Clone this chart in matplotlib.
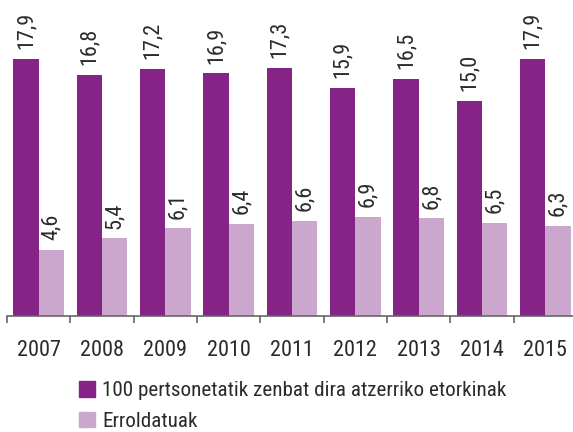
import matplotlib
matplotlib.use('Agg')
import matplotlib.pyplot as plt
from matplotlib.patches import Patch

plt.rcParams['font.family'] = ['Roboto Condensed', 'DejaVu Sans']

urteak = ['2007', '2008', '2009', '2010', '2011', '2012', '2013', '2014', '2015']
etorkinak = [17.9, 16.8, 17.2, 16.9, 17.3, 15.9, 16.5, 15.0, 17.9]
erroldatuak = [4.6, 5.4, 6.1, 6.4, 6.6, 6.9, 6.8, 6.5, 6.3]
izenak = ['100 pertsonetatik zenbat dira atzerriko etorkinak', 'Erroldatuak']

c_more = '#852387'
c_lila = '#cba7cd'
c_text = '#2b2b2b'

fig = plt.figure(figsize=(5.73, 4.32), dpi=100)
ax = fig.add_axes([7/573, 116/432, 570/573, 316/432])

x = list(range(len(urteak)))
b1 = ax.bar([i - 0.2 for i in x], etorkinak, width=0.4, color=c_more)
b2 = ax.bar([i + 0.2 for i in x], erroldatuak, width=0.4, color=c_lila)

for bars, vals in ((b1, etorkinak), (b2, erroldatuak)):
    for b, v in zip(bars, vals):
        ax.annotate(f'{v:.1f}'.replace('.', ','),
                    (b.get_x() + b.get_width()/2, b.get_height()),
                    xytext=(0, 7), textcoords='offset points',
                    rotation=90, ha='center', va='bottom',
                    fontsize=16, color=c_text)

ax.set_xlim(-0.5, 8.5)
ax.set_ylim(0, 22)
for s in ['top', 'right', 'left']:
    ax.spines[s].set_visible(False)
ax.spines['bottom'].set_color('#666666')
ax.spines['bottom'].set_linewidth(1.2)
ax.set_yticks([])
ax.set_xticks(x, urteak)
ax.set_xticks([i + 0.5 for i in range(-1, len(urteak))], minor=True)
ax.tick_params(axis='x', which='major', length=0, pad=17, labelsize=16, labelcolor=c_text)
ax.tick_params(axis='x', which='minor', length=5, width=1.2, color='#666666')

handles = [Patch(color=c_more), Patch(color=c_lila)]
fig.legend(handles, izenak, loc='upper left', bbox_to_anchor=(79/573, 1 - 381/432),
           frameon=False, borderpad=0, borderaxespad=0, fontsize=15.2,
           handlelength=0.76, handleheight=0.76, handletextpad=0.35,
           labelspacing=0.55, labelcolor=c_text)

fig.savefig('out.png', dpi=100)
